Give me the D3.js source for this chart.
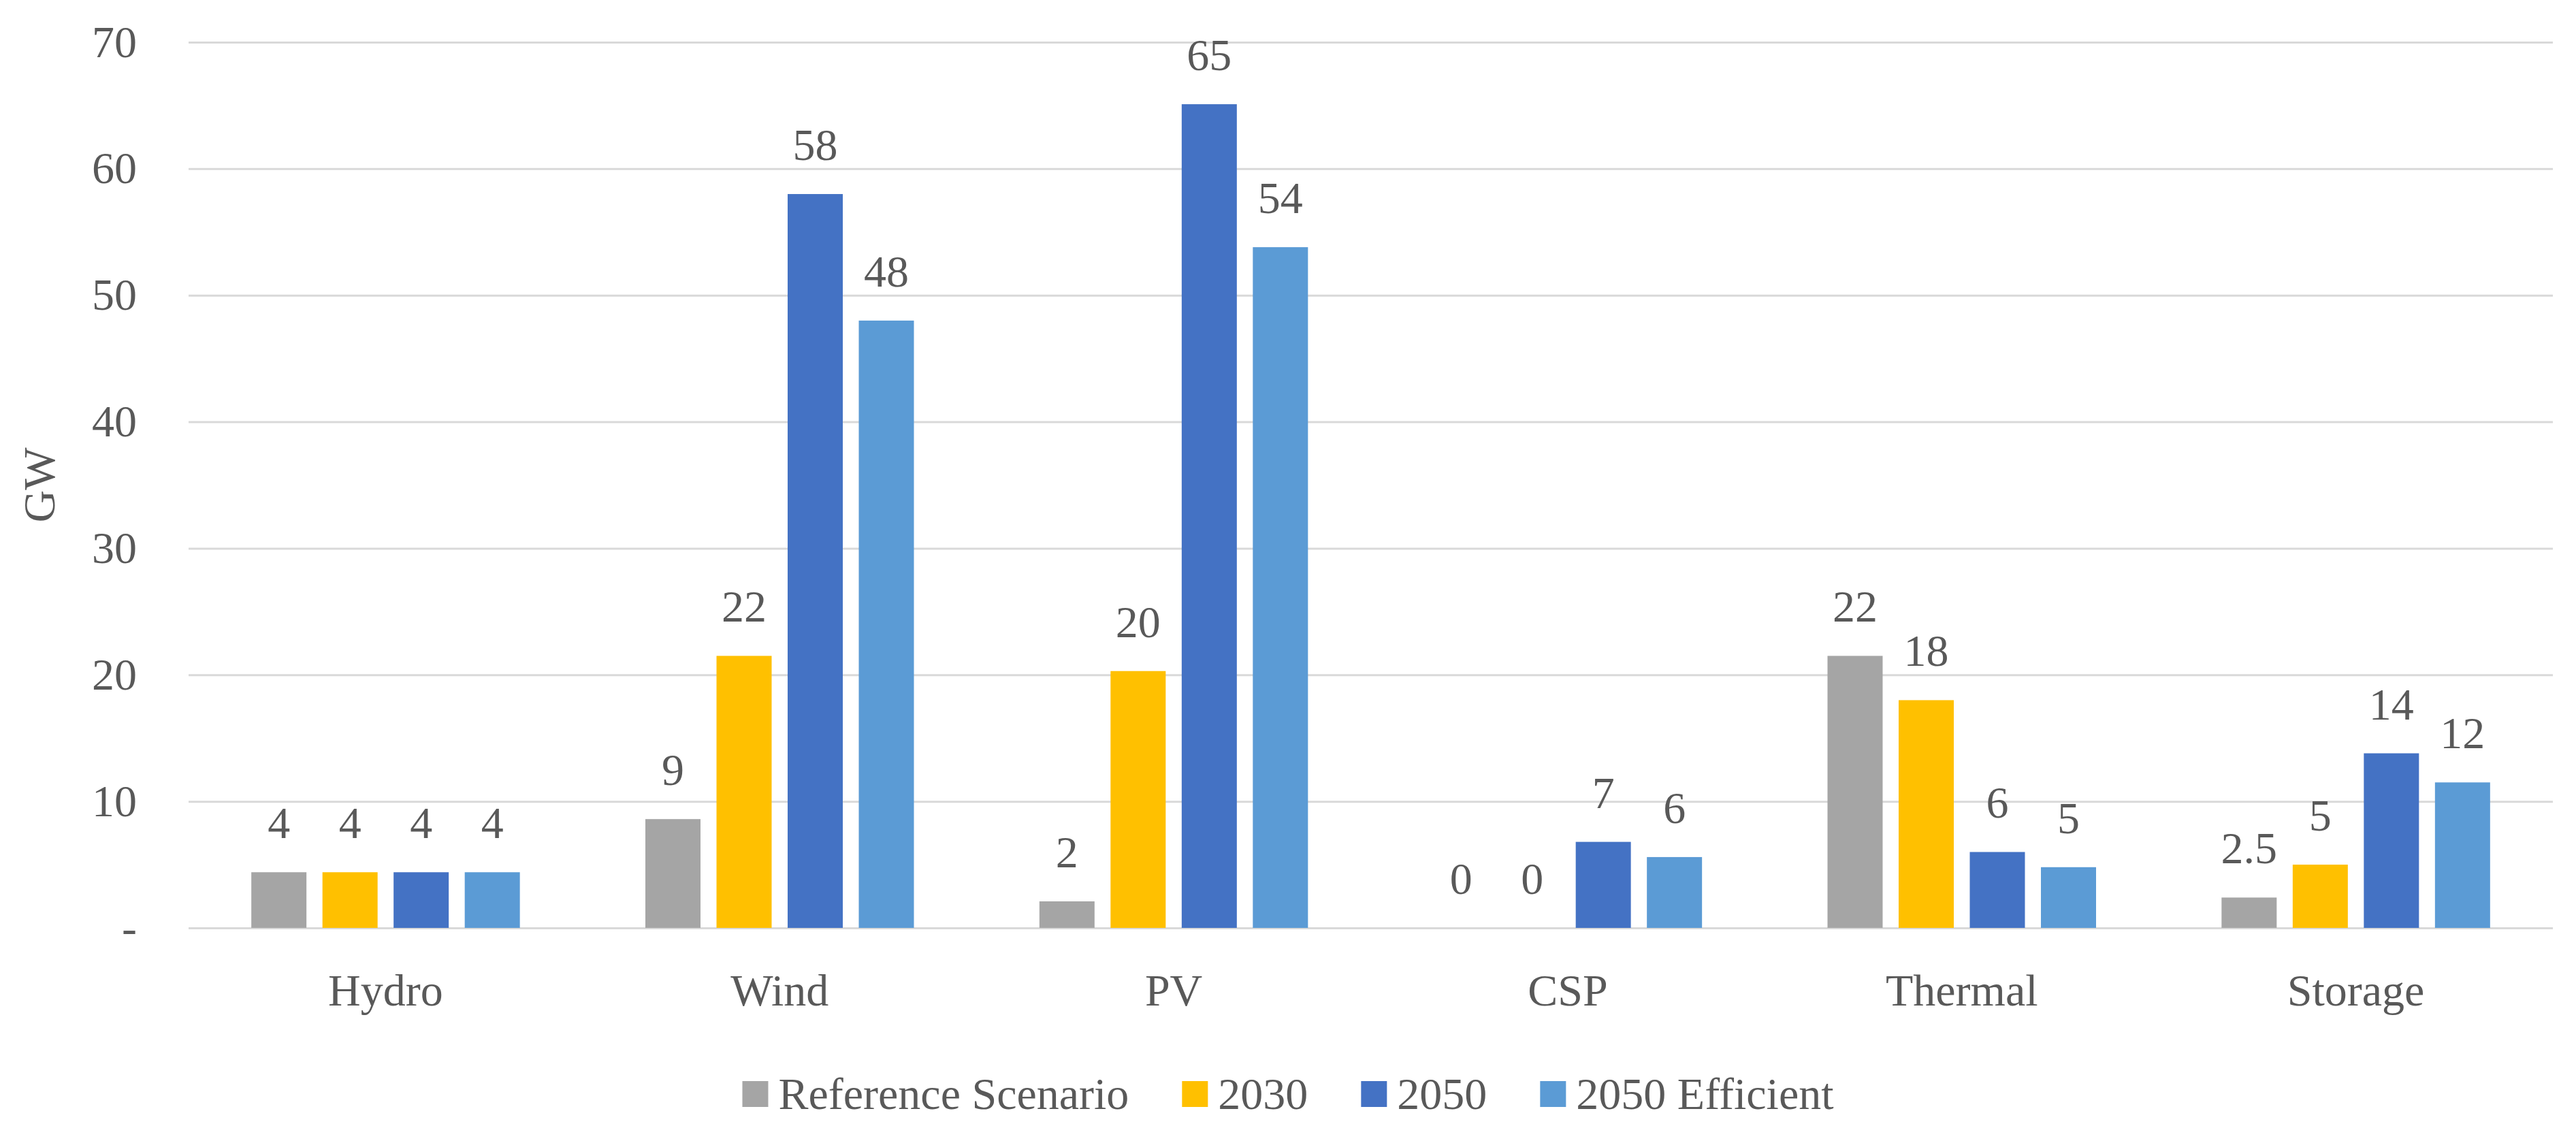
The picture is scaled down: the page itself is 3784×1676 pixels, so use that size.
<!DOCTYPE html>
<html>
<head>
<meta charset="utf-8">
<script src="https://cdn.jsdelivr.net/npm/d3@7"></script>
<style>
  body { margin: 0; background: #fff; }
  text { font-family: "Liberation Serif", "Times New Roman", serif; fill: #595959; }
</style>
</head>
<body>
<div id="chart"></div>
<script>
// data
const categories = ["Hydro", "Wind", "PV", "CSP", "Thermal", "Storage"];
const seriesNames = ["Reference Scenario", "2030", "2050", "2050 Efficient"];
const refScenario = [4.4, 8.6, 2.1, 0, 21.5, 2.4];
const y2030 = [4.4, 21.5, 20.3, 0, 18.0, 5.0];
const y2050 = [4.4, 58.0, 65.1, 6.8, 6.0, 13.8];
const y2050eff = [4.4, 48.0, 53.8, 5.6, 4.8, 11.5];
const refLabels = ["4", "9", "2", "0", "22", "2.5"];
const y2030Labels = ["4", "22", "20", "0", "18", "5"];
const y2050Labels = ["4", "58", "65", "7", "6", "14"];
const y2050effLabels = ["4", "48", "54", "6", "5", "12"];
const yTicks = [0, 10, 20, 30, 40, 50, 60, 70];

const seriesValues = [refScenario, y2030, y2050, y2050eff];
const seriesLabels = [refLabels, y2030Labels, y2050Labels, y2050effLabels];
const colors = ["#A5A5A5", "#FFC000", "#4472C4", "#5B9BD5"];

const svgWidth = 3784, svgHeight = 1676;
const margin = {top: 62, right: 34, bottom: 313, left: 277};
const width = svgWidth - margin.left - margin.right;
const height = svgHeight - margin.top - margin.bottom;
const fontSize = 66;

const svg = d3.select("#chart").append("svg")
  .attr("width", svgWidth)
  .attr("height", svgHeight);

const chart = svg.append("g")
  .attr("transform", "translate(" + margin.left + "," + margin.top + ")");

const x0 = d3.scaleBand().domain(categories).range([0, width]).padding(0);
const x1 = d3.scaleBand().domain(seriesNames).range([0, x0.bandwidth()])
  .paddingInner(0.225).paddingOuter(0.882);
const y = d3.scaleLinear().domain([0, 70]).range([height, 0]);

// gridlines + y labels
const yAxis = chart.append("g")
  .call(d3.axisLeft(y).tickValues(yTicks).tickSize(-width).tickPadding(76)
    .tickFormat(d => d === 0 ? "-" : d));
yAxis.select(".domain").remove();
yAxis.selectAll("line").attr("stroke", "#D9D9D9").attr("stroke-width", 3);
yAxis.selectAll("text")
  .style("font-size", fontSize + "px")
  .style("font-family", '"Liberation Serif", serif')
  .attr("fill", "#595959");

// category labels
const xAxis = chart.append("g")
  .attr("transform", "translate(0," + height + ")")
  .call(d3.axisBottom(x0).tickSize(0).tickPadding(67));
xAxis.select(".domain").remove();
xAxis.selectAll("text")
  .style("font-size", fontSize + "px")
  .style("font-family", '"Liberation Serif", serif')
  .attr("fill", "#595959");

// bars
const rows = categories.map((c, i) => ({
  category: c,
  values: seriesNames.map((s, j) => ({series: s, value: seriesValues[j][i], label: seriesLabels[j][i], color: colors[j]}))
}));

const groups = chart.selectAll(".group")
  .data(rows)
  .enter().append("g")
  .attr("class", "group")
  .attr("transform", d => "translate(" + x0(d.category) + ",0)");

groups.selectAll("rect")
  .data(d => d.values)
  .enter().append("rect")
  .attr("x", d => x1(d.series))
  .attr("y", d => y(d.value))
  .attr("width", x1.bandwidth())
  .attr("height", d => height - y(d.value))
  .attr("fill", d => d.color);

groups.selectAll(".label")
  .data(d => d.values)
  .enter().append("text")
  .attr("class", "label")
  .attr("x", d => x1(d.series) + x1.bandwidth() / 2)
  .attr("y", d => y(d.value) - 50)
  .attr("text-anchor", "middle")
  .style("font-size", fontSize + "px")
  .text(d => d.label);

// y axis title
svg.append("text")
  .attr("transform", "translate(80," + (margin.top + height / 2) + ") rotate(-90)")
  .attr("text-anchor", "middle")
  .style("font-size", fontSize + "px")
  .text("GW");

// legend, centred on the picture
const legend = svg.append("g");
const swatch = 38, swatchGap = 15, itemGap = 78;
let lx = 0;
seriesNames.forEach((name, i) => {
  const item = legend.append("g").attr("transform", "translate(" + lx + ",0)");
  item.append("rect")
    .attr("x", 0).attr("y", -41)
    .attr("width", swatch).attr("height", swatch)
    .attr("fill", colors[i]);
  const t = item.append("text")
    .attr("x", swatch + swatchGap)
    .attr("y", 0)
    .style("font-size", fontSize + "px")
    .text(name);
  lx += swatch + swatchGap + t.node().getComputedTextLength() + itemGap;
});
lx -= itemGap;
legend.attr("transform", "translate(" + ((svgWidth - lx) / 2) + ",1629)");
</script>
</body>
</html>
